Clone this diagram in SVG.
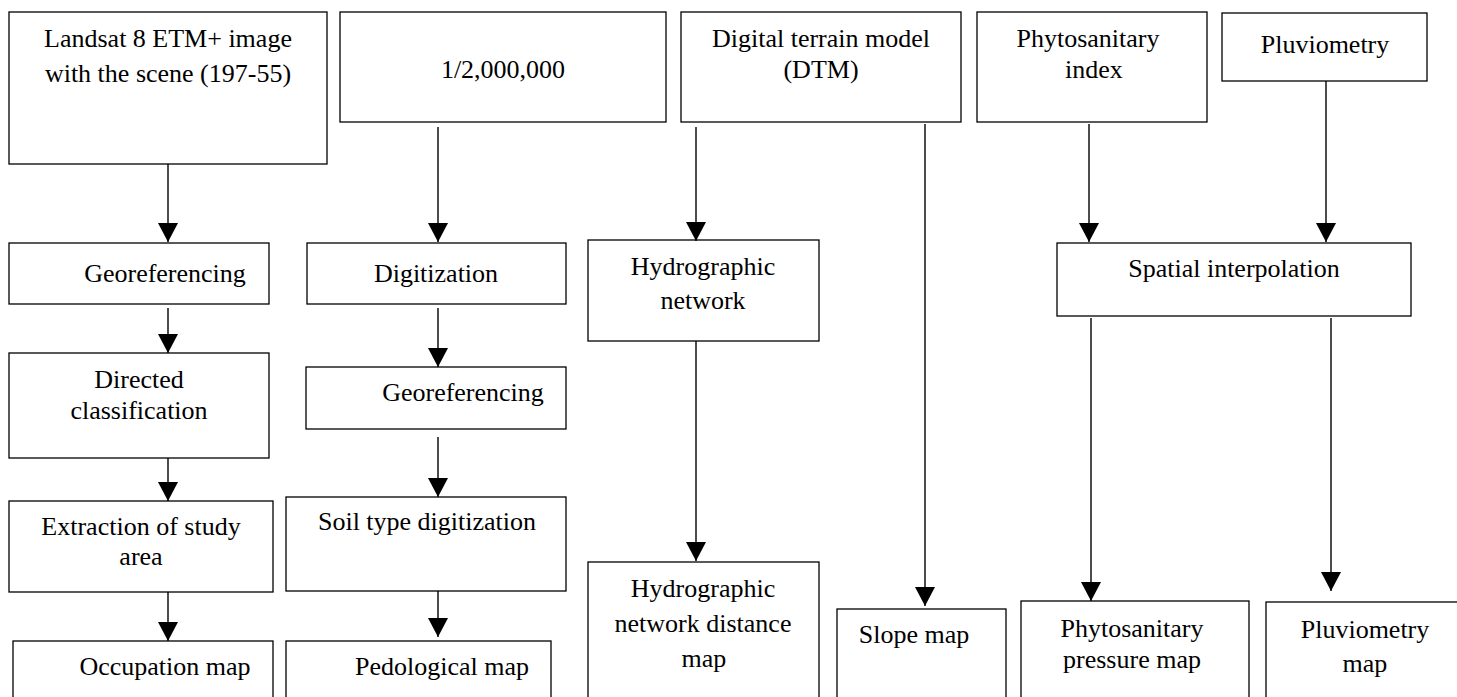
<svg xmlns="http://www.w3.org/2000/svg" width="1457" height="697" viewBox="0 0 1457 697">
<style>
.box{fill:#fff;stroke:#000;stroke-width:1.3}
.t{font-family:'Liberation Serif','DejaVu Serif',serif;font-size:26px;fill:#000;text-anchor:middle}
.c{stroke:#000;stroke-width:1.4;fill:none}
</style>
<defs>
<marker id="ah" markerUnits="userSpaceOnUse" markerWidth="20" markerHeight="20" refX="19" refY="10" orient="auto">
<path d="M0,0 L19,10 L0,20 z" fill="#000"/>
</marker>
</defs>
<rect width="1457" height="697" fill="#fff"/>
<g font-family="Liberation Serif, serif">
<g id="n-landsat"><rect class="box" x="9" y="12" width="318" height="152"/><text class="t" x="168" y="47">Landsat 8 ETM+ image</text><text class="t" x="168" y="82">with the scene (197-55)</text></g>
<g id="n-scale"><rect class="box" x="340" y="12" width="326" height="110"/><text class="t" x="503" y="78">1/2,000,000</text></g>
<g id="n-dtm"><rect class="box" x="681" y="12" width="280" height="110"/><text class="t" x="821" y="47">Digital terrain model</text><text class="t" x="821" y="78">(DTM)</text></g>
<g id="n-phyto"><rect class="box" x="977" y="12" width="230" height="110"/><text class="t" x="1088" y="47">Phytosanitary</text><text class="t" x="1094" y="78">index</text></g>
<g id="n-pluvio"><rect class="box" x="1222" y="13" width="205" height="68"/><text class="t" x="1325" y="53">Pluviometry</text></g>
<g id="n-georef1"><rect class="box" x="9" y="243" width="260" height="61"/><text class="t" x="165" y="282">Georeferencing</text></g>
<g id="n-digit"><rect class="box" x="307" y="243" width="259" height="61"/><text class="t" x="436" y="282">Digitization</text></g>
<g id="n-hydro"><rect class="box" x="588" y="240" width="231" height="101"/><text class="t" x="703" y="275">Hydrographic</text><text class="t" x="703" y="309">network</text></g>
<g id="n-spatial"><rect class="box" x="1057" y="243" width="354" height="73"/><text class="t" x="1234" y="277">Spatial interpolation</text></g>
<g id="n-directed"><rect class="box" x="9" y="353" width="260" height="105"/><text class="t" x="139" y="388">Directed</text><text class="t" x="139" y="419">classification</text></g>
<g id="n-georef2"><rect class="box" x="306" y="367" width="260" height="62"/><text class="t" x="463" y="401">Georeferencing</text></g>
<g id="n-extract"><rect class="box" x="9" y="501" width="264" height="91"/><text class="t" x="141" y="535">Extraction of study</text><text class="t" x="141" y="565">area</text></g>
<g id="n-soil"><rect class="box" x="286" y="497" width="280" height="94"/><text class="t" x="427" y="530">Soil type digitization</text></g>
<g id="n-occup"><rect class="box" x="13" y="641" width="260" height="70"/><text class="t" x="165" y="675">Occupation map</text></g>
<g id="n-pedo"><rect class="box" x="286" y="641" width="265" height="70"/><text class="t" x="442" y="675">Pedological map</text></g>
<g id="n-hnd"><rect class="box" x="588" y="562" width="231" height="150"/><text class="t" x="703" y="597">Hydrographic</text><text class="t" x="703" y="632">network distance</text><text class="t" x="704" y="667">map</text></g>
<g id="n-slope"><rect class="box" x="837" y="609" width="169" height="100"/><text class="t" x="914" y="643">Slope map</text></g>
<g id="n-pressure"><rect class="box" x="1021" y="601" width="228" height="110"/><text class="t" x="1132" y="637">Phytosanitary</text><text class="t" x="1132" y="668">pressure map</text></g>
<g id="n-pluviomap"><rect class="box" x="1266" y="602" width="210" height="110"/><text class="t" x="1365" y="638">Pluviometry</text><text class="t" x="1365" y="672">map</text></g>
</g>
<g id="connectors">
<line class="c" x1="168" y1="164" x2="168" y2="242" marker-end="url(#ah)"/>
<line class="c" x1="168" y1="308" x2="168" y2="353" marker-end="url(#ah)"/>
<line class="c" x1="168" y1="458" x2="168" y2="501" marker-end="url(#ah)"/>
<line class="c" x1="168" y1="592" x2="168" y2="641" marker-end="url(#ah)"/>
<line class="c" x1="438" y1="127" x2="438" y2="242" marker-end="url(#ah)"/>
<line class="c" x1="438" y1="308" x2="438" y2="367" marker-end="url(#ah)"/>
<line class="c" x1="438" y1="437" x2="438" y2="497" marker-end="url(#ah)"/>
<line class="c" x1="438" y1="591" x2="438" y2="637" marker-end="url(#ah)"/>
<line class="c" x1="696" y1="127" x2="696" y2="241" marker-end="url(#ah)"/>
<line class="c" x1="696" y1="341" x2="696" y2="561" marker-end="url(#ah)"/>
<line class="c" x1="925" y1="124" x2="925" y2="606" marker-end="url(#ah)"/>
<line class="c" x1="1089" y1="124" x2="1089" y2="242" marker-end="url(#ah)"/>
<line class="c" x1="1326" y1="81" x2="1326" y2="242" marker-end="url(#ah)"/>
<line class="c" x1="1091" y1="318" x2="1091" y2="601" marker-end="url(#ah)"/>
<line class="c" x1="1331" y1="318" x2="1331" y2="591" marker-end="url(#ah)"/>
</g>
</svg>
